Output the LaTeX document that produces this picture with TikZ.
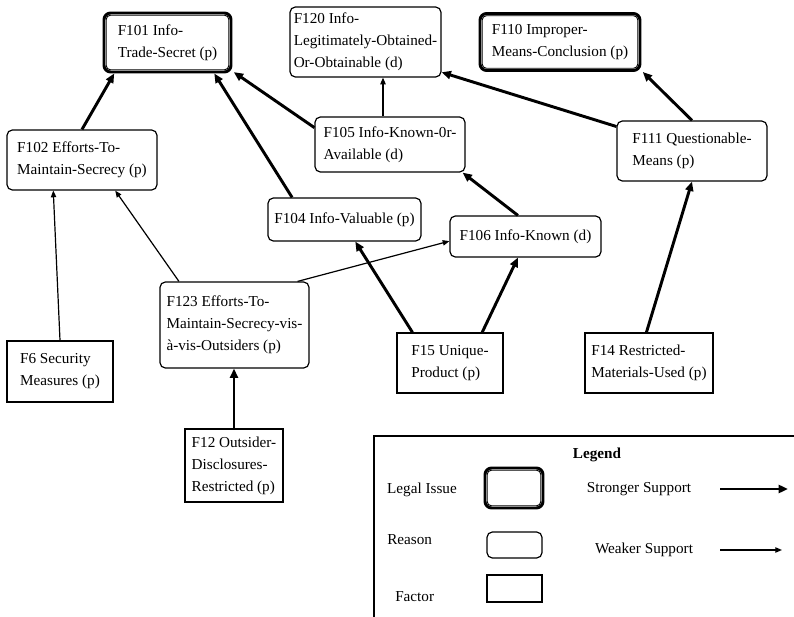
\documentclass[tikz,border=0pt]{standalone}
\usepackage{fontspec}
\setmainfont{Liberation Serif}
\usetikzlibrary{arrows.meta,calc}
\begin{document}
\begin{tikzpicture}[x=0.75pt,y=-0.75pt,
 every node/.style={font=\fontsize{11.4}{16.5}\selectfont, inner sep=0pt, align=left},
 reason/.style={draw, line width=0.9pt, rounded corners=4pt},
 factor/.style={draw, line width=0.9pt},
 legal/.style={draw, line width=2.2pt, rounded corners=5pt},
 sz/.style 2 args={minimum width=#1*0.75pt, minimum height=#2*0.75pt},
 strong/.style={line width=2.2pt, -{Triangle[length=7pt,width=6pt]}},
 weak/.style={line width=0.9pt, -{Triangle[length=5pt,width=4pt]}},
 legalinner/.style={line width=0.7pt, rounded corners=3pt},
]
\useasboundingbox (0,0) rectangle (794,617);

% nodes
\node[legal, sz={127}{59}] (F101) at (167.5,42.5) {F101 Info-\\Trade-Secret (p)};
\node[reason, sz={151}{70}] (F120) at (365.5,42) {F120 Info-\\Legitimately-Obtained-\\Or-Obtainable (d)};
\node[legal, sz={160}{57}] (F110) at (560,42) {F110 Improper-\\Means-Conclusion (p)};
\node[reason, sz={150}{60}] (F102) at (82,160) {F102 Efforts-To-\\Maintain-Secrecy (p)};
\node[reason, sz={150}{55}] (F105) at (390,144.5) {F105 Info-Known-0r-\\Available (d)};
\node[reason, sz={150}{60}] (F111) at (692,151) {F111 Questionable-\\Means (p)};
\node[reason, sz={153}{43}] (F104) at (344.5,219.5) {F104 Info-Valuable (p)};
\node[reason, sz={151}{41}] (F106) at (525.5,236.5) {F106 Info-Known (d)};
\node[reason, sz={149}{86}] (F123) at (234.5,325) {F123 Efforts-To-\\Maintain-Secrecy-vis-\\à-vis-Outsiders (p)};
\node[factor, sz={106}{61}] (F6) at (60,371.5) {F6 Security\\Measures (p)};
\node[factor, sz={106}{60}] (F15) at (450,363) {F15 Unique-\\Product (p)};
\node[factor, sz={128}{60}] (F14) at (649,363) {F14 Restricted-\\Materials-Used (p)};
\node[factor, sz={98}{73}] (F12) at (234,465.5) {F12 Outsider-\\Disclosures-\\Restricted (p)};

\foreach \n in {F101,F110}
  \draw[legalinner] ([xshift=2.8pt,yshift=-2.8pt]\n.north west) rectangle ([xshift=-2.8pt,yshift=2.8pt]\n.south east);

% connectors
\draw[strong] (F102.north) -- ($(F101.south west)!0.09!(F101.south east)$);
\draw[strong] ($(F104.north west)!0.16!(F104.north east)$) -- ($(F101.south west)!0.86!(F101.south east)$);
\draw[strong] ($(F105.north west)!0.2!(F105.south west)$) -- ([xshift=1pt,yshift=1pt]F101.south east);
\draw[weak] ([xshift=-5.25pt]F105.north) coordinate (a) -- (a |- F120.south);
\draw[strong] ($(F111.north west)!0.1!(F111.south west)$) -- ([yshift=4pt]F120.south east);
\draw[strong] (F111.north) -- ([xshift=1pt]F110.south east);
\draw[weak] (F6.north) -- ($(F102.south west)!0.31!(F102.south east)$);
\draw[weak] ($(F123.north west)!0.13!(F123.north east)$) -- ($(F102.south west)!0.72!(F102.south east)$);
\draw[weak] ($(F123.north west)!0.92!(F123.north east)$) -- ($(F106.north west)!0.61!(F106.south west)$);
\draw[strong] (F12.north) -- (F12.north |- F123.south);
\draw[strong] ($(F15.north west)!0.15!(F15.north east)$) -- ($(F104.south west)!0.57!(F104.south east)$);
\draw[strong] ($(F15.north west)!0.8!(F15.north east)$) -- ($(F106.south west)!0.45!(F106.south east)$);
\draw[strong] ($(F106.north west)!0.45!(F106.north east)$) -- ($(F105.south west)!0.98!(F105.south east)$);
\draw[strong] ($(F14.north west)!0.48!(F14.north east)$) -- (F111.south);

% legend
\draw[line width=0.9pt] (374,617) -- (374,436) -- (794,436);
\node[font=\bfseries\fontsize{11.4}{16.5}\selectfont] (lg) at (597,455) {Legend};
\node (li) at (422,490) {Legal Issue};
\node[legal, sz={58}{40}] (lib) at (514,488) {};
\draw[legalinner] ([xshift=2.8pt,yshift=-2.8pt]lib.north west) rectangle ([xshift=-2.8pt,yshift=2.8pt]lib.south east);
\node (ss) at (639,489) {Stronger Support};
\coordinate (s1) at (720,489);
\coordinate (s2) at (788,489);
\draw[strong] (s1) -- (s2);
\node[anchor=west] (re) at (387,540) {Reason};
\node[reason, sz={55}{26}] (rb) at (514.5,545) {};
\node (ws) at (644,550) {Weaker Support};
\coordinate (w1) at (720,550);
\coordinate (w2) at (782,550);
\draw[weak] (w1) -- (w2);
\node[anchor=west] (fa) at (395,597) {Factor};
\node[factor, sz={55}{27}] (fb) at (514.5,588.5) {};
\end{tikzpicture}
\end{document}
